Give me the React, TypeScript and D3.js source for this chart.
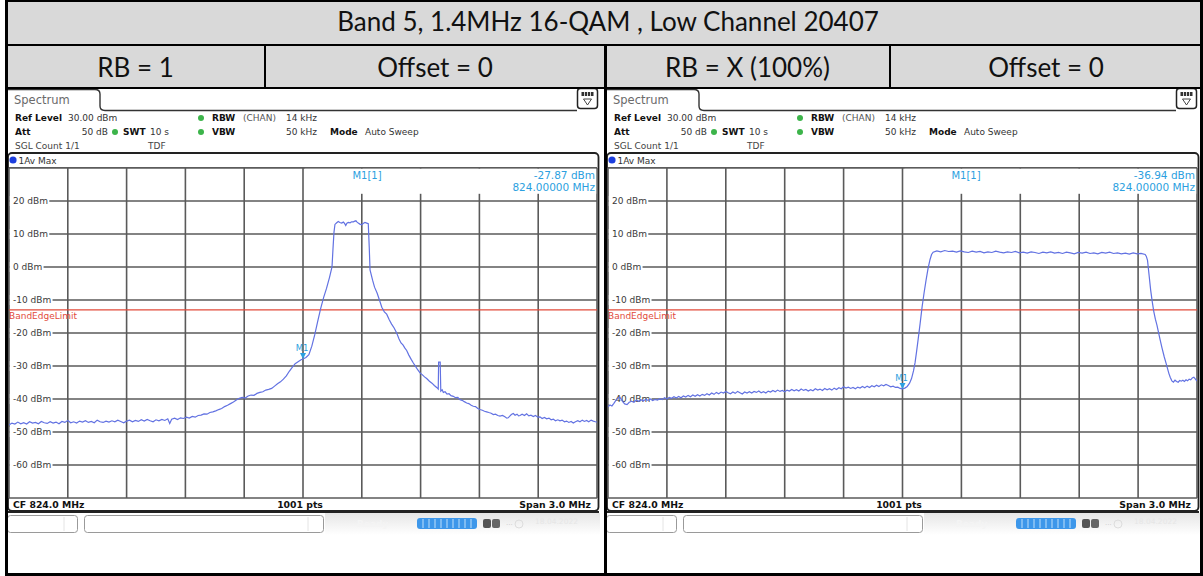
import React from "react";
import * as d3 from "d3";

// ---------------- data ----------------
const TITLE = "Band 5, 1.4MHz 16-QAM , Low Channel 20407";
const SUB_HEADERS = ["RB = 1", "Offset = 0", "RB = X (100%)", "Offset = 0"];
const Y_TICKS = [20, 10, 0, -10, -20, -30, -40, -50, -60];
const REF_LEVEL = 30;
const BOTTOM_LEVEL = -70;
const CF_LABEL = "CF 824.0 MHz";
const PTS_LABEL = "1001 pts";
const SPAN_LABEL = "Span 3.0 MHz";
const SPAN_MHZ = 3.0;
const X_DIVISIONS = 10;
const LIMIT_DBM = -13;
const LIMIT_NAME = "BandEdgeLimit";
const MARKER_OFFSET_MHZ = 0;
const MARKER_DBM = [-27.87, -36.94];
const MARKER_FREQ_LABEL = "824.00000 MHz";

// [frequency offset from CF in MHz, level in dBm]
const TRACE_RB1: [number, number][] = [
  [-1.5, -47.9], [-1.485, -47.3], [-1.47, -47.6], [-1.455, -47.0], [-1.44, -47.5], [-1.425, -47.2],
  [-1.41, -47.6], [-1.395, -46.9], [-1.38, -47.3], [-1.365, -47.1], [-1.35, -47.5], [-1.335, -46.8],
  [-1.32, -47.2], [-1.305, -47.4], [-1.29, -46.9], [-1.275, -47.3], [-1.26, -47.0], [-1.245, -47.5],
  [-1.23, -46.8], [-1.215, -47.1], [-1.2, -46.5], [-1.185, -47.2], [-1.17, -46.9], [-1.155, -47.3],
  [-1.14, -46.7], [-1.125, -47.0], [-1.11, -46.6], [-1.095, -47.1], [-1.08, -46.8], [-1.065, -47.2],
  [-1.05, -46.4], [-1.035, -46.9], [-1.02, -47.1], [-1.005, -46.7], [-0.99, -47.0], [-0.975, -46.6],
  [-0.96, -46.9], [-0.945, -46.4], [-0.93, -46.8], [-0.915, -47.2], [-0.9, -46.7], [-0.885, -46.4],
  [-0.87, -46.9], [-0.855, -46.5], [-0.84, -46.8], [-0.825, -46.3], [-0.81, -46.7], [-0.795, -46.2],
  [-0.78, -46.6], [-0.765, -46.9], [-0.75, -46.3], [-0.735, -46.6], [-0.72, -46.2], [-0.705, -46.5],
  [-0.69, -46.0], [-0.68, -47.4], [-0.67, -46.1], [-0.655, -45.8], [-0.64, -46.2], [-0.625, -45.7],
  [-0.61, -45.9], [-0.595, -45.5], [-0.58, -45.8], [-0.565, -45.3], [-0.55, -45.5], [-0.535, -45.0],
  [-0.52, -44.9], [-0.505, -44.5], [-0.49, -44.6], [-0.475, -44.1], [-0.46, -43.9], [-0.445, -43.6],
  [-0.43, -43.2], [-0.415, -42.9], [-0.4, -42.3], [-0.385, -41.9], [-0.37, -41.4], [-0.355, -40.9],
  [-0.34, -40.3], [-0.325, -39.8], [-0.31, -39.5], [-0.295, -39.7], [-0.28, -39.1], [-0.265, -38.8],
  [-0.25, -38.9], [-0.235, -38.3], [-0.22, -38.0], [-0.205, -37.8], [-0.19, -37.3], [-0.175, -37.1],
  [-0.16, -36.8], [-0.145, -36.1], [-0.13, -35.4], [-0.115, -34.8], [-0.1, -34.0], [-0.085, -33.0],
  [-0.07, -31.6], [-0.055, -30.4], [-0.04, -29.3], [-0.025, -28.7], [-0.01, -28.1], [0.0, -27.9],
  [0.015, -27.4], [0.03, -26.6], [0.045, -24.0], [0.06, -20.5], [0.075, -16.5], [0.09, -12.6],
  [0.105, -9.3], [0.12, -6.5], [0.135, -3.2], [0.148, 0.0], [0.153, 5.5], [0.158, 10.5],
  [0.163, 12.9], [0.172, 13.4], [0.18, 13.8], [0.188, 13.5], [0.197, 13.3], [0.206, 13.6],
  [0.212, 13.2], [0.218, 12.6], [0.224, 13.3], [0.231, 13.5], [0.24, 13.4], [0.248, 13.7],
  [0.257, 13.7], [0.264, 13.9], [0.27, 14.0], [0.276, 13.6], [0.282, 13.3], [0.29, 13.0],
  [0.299, 12.8], [0.307, 13.2], [0.316, 13.5], [0.325, 13.3], [0.333, 13.1], [0.338, 6.0],
  [0.342, -0.9], [0.355, -4.0], [0.365, -6.1], [0.378, -7.9], [0.39, -10.0], [0.402, -12.2],
  [0.415, -13.6], [0.427, -14.3], [0.44, -16.0], [0.452, -17.3], [0.465, -18.5], [0.478, -20.0],
  [0.49, -21.8], [0.5, -23.0], [0.51, -23.6], [0.52, -24.6], [0.529, -25.3], [0.54, -26.7],
  [0.552, -28.0], [0.563, -29.1], [0.575, -30.2], [0.586, -31.2], [0.597, -32.1], [0.608, -32.6],
  [0.62, -33.3], [0.631, -33.8], [0.645, -34.6], [0.658, -35.2], [0.67, -35.9], [0.682, -36.5],
  [0.69, -37.0], [0.692, -28.8], [0.7, -28.8], [0.703, -37.6], [0.71, -37.2], [0.716, -38.0],
  [0.725, -37.8], [0.735, -38.5], [0.745, -38.4], [0.755, -39.0], [0.767, -39.2], [0.778, -39.6],
  [0.79, -39.5], [0.801, -40.2], [0.812, -40.4], [0.823, -40.8], [0.835, -41.2], [0.846, -41.4],
  [0.858, -41.9], [0.869, -42.2], [0.88, -42.3], [0.892, -42.9], [0.903, -43.2], [0.915, -43.4],
  [0.926, -43.7], [0.937, -43.9], [0.948, -44.1], [0.96, -44.3], [0.971, -44.7], [0.982, -44.6],
  [0.994, -45.0], [1.005, -45.2], [1.018, -45.0], [1.03, -45.4], [1.04, -45.8], [1.047, -45.7],
  [1.055, -45.2], [1.063, -44.7], [1.073, -44.4], [1.082, -44.9], [1.092, -44.6], [1.1, -45.1],
  [1.107, -45.0], [1.118, -44.6], [1.13, -45.0], [1.141, -44.5], [1.152, -45.1], [1.163, -44.9],
  [1.175, -45.3], [1.186, -45.0], [1.198, -45.5], [1.209, -45.4], [1.22, -45.9], [1.232, -45.6],
  [1.243, -46.0], [1.255, -45.8], [1.266, -46.3], [1.277, -46.1], [1.288, -46.6], [1.3, -46.3],
  [1.311, -46.6], [1.322, -46.4], [1.334, -46.9], [1.345, -46.7], [1.356, -47.1], [1.368, -46.8],
  [1.379, -47.3], [1.39, -46.9], [1.402, -46.6], [1.413, -46.9], [1.425, -46.4], [1.436, -46.8],
  [1.447, -46.5], [1.458, -46.9], [1.47, -46.4], [1.481, -46.7], [1.492, -46.9], [1.5, -47.0],
];

const TRACE_RB100: [number, number][] = [
  [-1.5, -42.4], [-1.49, -41.8], [-1.48, -42.1], [-1.47, -41.3], [-1.46, -40.4], [-1.45, -39.8],
  [-1.44, -39.4], [-1.432, -40.2], [-1.424, -40.9], [-1.415, -41.5], [-1.403, -41.7], [-1.392, -41.0],
  [-1.38, -40.7], [-1.368, -41.0], [-1.356, -40.4], [-1.344, -40.7], [-1.332, -40.2], [-1.32, -40.6],
  [-1.308, -40.1], [-1.296, -40.4], [-1.284, -40.0], [-1.272, -40.5], [-1.26, -40.1], [-1.248, -40.3],
  [-1.236, -39.9], [-1.224, -40.2], [-1.212, -39.6], [-1.2, -40.0], [-1.188, -39.5], [-1.176, -39.8],
  [-1.164, -39.3], [-1.152, -39.7], [-1.14, -39.2], [-1.128, -39.6], [-1.116, -39.1], [-1.104, -39.4],
  [-1.092, -38.9], [-1.08, -39.3], [-1.068, -38.8], [-1.056, -39.2], [-1.044, -38.7], [-1.032, -39.1],
  [-1.02, -38.6], [-1.008, -38.9], [-0.996, -38.4], [-0.984, -38.8], [-0.972, -38.2], [-0.96, -38.6],
  [-0.948, -38.0], [-0.936, -38.4], [-0.924, -37.9], [-0.912, -38.2], [-0.9, -37.7], [-0.888, -38.1],
  [-0.876, -38.4], [-0.864, -37.9], [-0.852, -38.3], [-0.84, -37.7], [-0.828, -38.1], [-0.816, -38.5],
  [-0.804, -37.9], [-0.792, -38.2], [-0.78, -37.8], [-0.768, -38.2], [-0.756, -37.7], [-0.744, -38.0],
  [-0.732, -37.6], [-0.72, -38.1], [-0.708, -37.8], [-0.696, -38.2], [-0.684, -37.6], [-0.672, -37.9],
  [-0.66, -37.4], [-0.648, -37.8], [-0.636, -37.3], [-0.624, -37.7], [-0.612, -37.4], [-0.6, -37.8],
  [-0.588, -37.3], [-0.576, -37.6], [-0.564, -37.1], [-0.552, -37.5], [-0.54, -37.2], [-0.528, -37.6],
  [-0.516, -37.0], [-0.504, -37.4], [-0.492, -37.1], [-0.48, -37.6], [-0.468, -37.2], [-0.456, -37.5],
  [-0.444, -36.9], [-0.432, -37.3], [-0.42, -37.0], [-0.408, -37.4], [-0.396, -36.8], [-0.384, -37.2],
  [-0.372, -36.9], [-0.36, -37.3], [-0.348, -36.7], [-0.336, -37.1], [-0.324, -36.6], [-0.312, -36.9],
  [-0.3, -36.3], [-0.288, -36.7], [-0.276, -36.4], [-0.264, -36.8], [-0.252, -36.5], [-0.24, -36.9],
  [-0.228, -36.4], [-0.216, -36.7], [-0.204, -36.2], [-0.192, -36.6], [-0.18, -36.1], [-0.168, -36.5],
  [-0.156, -36.0], [-0.144, -36.3], [-0.132, -35.8], [-0.12, -36.2], [-0.108, -35.7], [-0.096, -36.0],
  [-0.084, -35.6], [-0.072, -35.9], [-0.06, -36.3], [-0.048, -36.1], [-0.036, -36.5], [-0.024, -36.4],
  [-0.012, -36.8], [0.0, -36.9], [0.012, -36.7], [0.024, -36.2], [0.036, -35.2], [0.046, -33.8],
  [0.056, -31.5], [0.064, -29.0], [0.072, -25.5], [0.08, -21.8], [0.09, -17.0], [0.1, -12.0],
  [0.11, -7.8], [0.12, -4.0], [0.13, -0.5], [0.14, 2.2], [0.148, 3.8], [0.156, 4.5],
  [0.175, 4.9], [0.195, 4.6], [0.215, 5.0], [0.235, 4.7], [0.255, 4.8], [0.275, 4.5],
  [0.295, 4.9], [0.315, 4.6], [0.335, 4.4], [0.355, 4.8], [0.375, 4.5], [0.395, 4.7],
  [0.415, 4.3], [0.435, 4.6], [0.455, 4.4], [0.475, 4.8], [0.495, 4.5], [0.515, 4.3],
  [0.535, 4.6], [0.555, 4.4], [0.575, 4.7], [0.595, 4.3], [0.615, 4.5], [0.635, 4.2],
  [0.655, 4.6], [0.675, 4.4], [0.695, 4.1], [0.715, 4.5], [0.735, 4.3], [0.755, 4.6],
  [0.775, 4.2], [0.795, 4.4], [0.815, 4.1], [0.835, 4.5], [0.855, 4.3], [0.875, 4.0],
  [0.895, 4.4], [0.915, 4.2], [0.935, 4.5], [0.955, 4.1], [0.975, 4.3], [0.995, 4.0],
  [1.015, 4.4], [1.035, 4.2], [1.055, 4.5], [1.075, 4.1], [1.095, 4.3], [1.115, 4.0],
  [1.135, 4.2], [1.155, 3.9], [1.175, 4.3], [1.195, 4.0], [1.215, 4.1], [1.236, 3.8],
  [1.242, 3.2], [1.248, 2.0], [1.256, -2.5], [1.264, -7.0], [1.272, -10.5], [1.28, -13.5],
  [1.288, -15.8], [1.296, -17.6], [1.304, -19.8], [1.312, -22.0], [1.322, -24.6], [1.333, -27.2],
  [1.343, -29.3], [1.35, -30.8], [1.357, -32.3], [1.364, -33.5], [1.372, -34.5], [1.38, -34.9],
  [1.388, -34.3], [1.396, -34.7], [1.404, -34.9], [1.412, -34.4], [1.42, -34.6], [1.428, -34.3],
  [1.436, -34.7], [1.444, -34.2], [1.452, -34.5], [1.46, -34.0], [1.468, -34.2], [1.476, -33.6],
  [1.484, -33.4], [1.492, -34.0], [1.5, -34.6],
];

// ---------------- drawing ----------------
const MONO = "DejaVu Sans";
const TRACE_COLOR = "#6272e2";
const MARKER_COLOR = "#2c9fe0";
const GRID_COLOR = "#5a5a5a";
const LIMIT_COLOR = "#e24b3b";

// approximate DejaVu Sans 9px glyph widths for label backgrounds
function labelWidth(s: string) {
  let w = 0;
  for (const c of s) {
    if (c >= "0" && c <= "9") w += 5.73;
    else if (c === "-") w += 3.25;
    else if (c === " ") w += 2.86;
    else if (c === "d") w += 5.72;
    else if (c === "B") w += 6.18;
    else if (c === "m") w += 8.77;
    else w += 5.5;
  }
  return w;
}

type PanelProps = { x0: number; x1: number; trace: [number, number][]; markerDbm: number; id: string };

function Panel({ x0, x1, trace, markerDbm, id }: PanelProps) {
  const PLOT_TOP = 168;
  const PLOT_BOTTOM = 498;
  const x = d3.scaleLinear().domain([-SPAN_MHZ / 2, SPAN_MHZ / 2]).range([x0, x1]);
  const y = d3.scaleLinear().domain([BOTTOM_LEVEL, REF_LEVEL]).range([PLOT_BOTTOM, PLOT_TOP]);
  const line = d3
    .line<[number, number]>()
    .x((d) => x(d[0]))
    .y((d) => y(d[1]));
  const vLines = d3.range(X_DIVISIONS + 1).map((i) => -SPAN_MHZ / 2 + (i * SPAN_MHZ) / X_DIVISIONS);
  const hLines = d3.range(BOTTOM_LEVEL, REF_LEVEL + 1, 10);
  const mx = x(MARKER_OFFSET_MHZ);
  const my = y(markerDbm);
  const t = (dx: number) => x0 + dx;
  const txt = { fontFamily: MONO, fontSize: 9 } as const;
  const bold = { fontFamily: MONO, fontSize: 9, fontWeight: 700 } as const;
  const infoX = mx + 2;

  return (
    <g>
      {/* top tab */}
      <path
        d={`M ${t(-1)} 89.5 H ${t(86)} Q ${t(91)} 89.5 ${t(91)} 94 V 106 Q ${t(91)} 110.5 ${t(96)} 110.5 H ${t(568)}`}
        fill="none"
        stroke="#333"
        strokeWidth={1.4}
      />
      <text x={t(5)} y={104} fontFamily={MONO} fontSize={11.5} fill="#6a6a6a">Spectrum</text>
      {/* icon */}
      <rect x={t(568.5)} y={88.5} width={20} height={20} rx={3} fill="#fff" stroke="#222" strokeWidth={1.5} />
      <rect x={t(572.5)} y={92} width={12} height={4} fill="#333" />
      {[0, 1, 2].map((i) => (
        <line key={i} x1={t(575.5 + i * 3)} x2={t(575.5 + i * 3)} y1={92} y2={96} stroke="#fff" strokeWidth={0.8} />
      ))}
      <path d={`M ${t(574.5)} 99 L ${t(582.5)} 99 L ${t(578.5)} 105 Z`} fill="none" stroke="#333" strokeWidth={0.9} />

      {/* info lines */}
      <text x={t(6)} y={121} {...bold} fill="#111">Ref Level</text>
      <text x={t(59)} y={121} {...txt} fill="#333">30.00 dBm</text>
      <circle cx={t(192)} cy={118} r={3} fill="#3cb44a" />
      <text x={t(203)} y={121} {...bold} fill="#111">RBW</text>
      <text x={t(234)} y={121} {...txt} fill="#555">(CHAN)</text>
      <text x={t(308)} y={121} {...txt} fill="#333" textAnchor="end">14 kHz</text>

      <text x={t(6)} y={135} {...bold} fill="#111">Att</text>
      <text x={t(99)} y={135} {...txt} fill="#333" textAnchor="end">50 dB</text>
      <circle cx={t(106)} cy={132} r={3} fill="#3cb44a" />
      <text x={t(114)} y={135} {...bold} fill="#111">SWT</text>
      <text x={t(141)} y={135} {...txt} fill="#333">10 s</text>
      <circle cx={t(192)} cy={132} r={3} fill="#3cb44a" />
      <text x={t(203)} y={135} {...bold} fill="#111">VBW</text>
      <text x={t(308)} y={135} {...txt} fill="#333" textAnchor="end">50 kHz</text>
      <text x={t(321)} y={135} {...bold} fill="#111">Mode</text>
      <text x={t(356)} y={135} {...txt} fill="#333">Auto Sweep</text>

      <text x={t(6)} y={149} {...txt} fill="#444">SGL Count 1/1</text>
      <text x={t(139)} y={149} {...txt} fill="#444">TDF</text>

      {/* diagram frame */}
      <rect x={x0 - 1} y={153} width={x1 - x0 + 2.5} height={358} rx={4} fill="#fff" stroke="#222" strokeWidth={1.8} />
      <line x1={x0} x2={x1} y1={167.5} y2={167.5} stroke="#666" strokeWidth={1} />
      <circle cx={t(4)} cy={160} r={3.6} fill="#1d3fde" />
      <text x={t(9.5)} y={163.5} {...txt} fill="#333">1Av Max</text>

      {/* grid */}
      {vLines.map((v, i) => (
        <line key={"v" + i} x1={x(v)} x2={x(v)} y1={PLOT_TOP} y2={PLOT_BOTTOM} stroke={GRID_COLOR} strokeWidth={1.6} />
      ))}
      {hLines.map((h, i) => (
        <line key={"h" + i} x1={x0} x2={x1} y1={y(h)} y2={y(h)} stroke={GRID_COLOR} strokeWidth={1.6} />
      ))}
      {/* marker info overlay */}
      <rect x={infoX} y={PLOT_TOP + 0.8} width={x1 - infoX - 0.8} height={25} fill="#fff" />
      <text x={t(358)} y={179} fontFamily={MONO} fontSize={10} fill={MARKER_COLOR} textAnchor="middle">M1[1]</text>
      <text x={x1 - 2} y={179} fontFamily={MONO} fontSize={10.5} fill={MARKER_COLOR} textAnchor="end">
        {markerDbm.toFixed(2)} dBm
      </text>
      <text x={x1 - 2} y={191} fontFamily={MONO} fontSize={10.5} fill={MARKER_COLOR} textAnchor="end">
        {MARKER_FREQ_LABEL}
      </text>

      {/* limit line */}
      <line x1={x0} x2={x1} y1={y(LIMIT_DBM)} y2={y(LIMIT_DBM)} stroke={LIMIT_COLOR} strokeWidth={1.1} />
      <text x={x0} y={y(LIMIT_DBM) + 9.5} {...txt} fill={LIMIT_COLOR}>{LIMIT_NAME}</text>

      {/* y tick labels */}
      {Y_TICKS.map((v) => {
        const s = `${v} dBm`;
        return (
          <g key={"t" + v}>
            <rect x={x0 + 0.8} y={y(v) - 5} width={labelWidth(s) + 4.5} height={10} fill="#fff" />
            <text x={t(4)} y={y(v) + 3.3} {...txt} fill="#3a3a3a">
              {s}
            </text>
          </g>
        );
      })}

      {/* trace */}
      <clipPath id={id}>
        <rect x={x0} y={PLOT_TOP} width={x1 - x0} height={PLOT_BOTTOM - PLOT_TOP} />
      </clipPath>
      <path d={line(trace) || ""} fill="none" stroke={TRACE_COLOR} strokeWidth={1.2} clipPath={`url(#${id})`} />

      {/* marker */}
      <path d={`M ${mx - 3} ${my - 6} L ${mx + 3} ${my - 6} L ${mx} ${my} Z`} fill={MARKER_COLOR} />
      <text x={mx - 1} y={my - 8} fontFamily={MONO} fontSize={8.5} fill={MARKER_COLOR} textAnchor="middle">M1</text>

      {/* bottom band */}
      <text x={t(4)} y={508} fontFamily={MONO} fontSize={9.3} fontWeight={700} fill="#111">{CF_LABEL}</text>
      <text x={t(291)} y={508} fontFamily={MONO} fontSize={9.3} fontWeight={700} fill="#111" textAnchor="middle">{PTS_LABEL}</text>
      <text x={x1 - 6} y={508} fontFamily={MONO} fontSize={9.3} fontWeight={700} fill="#111" textAnchor="end">{SPAN_LABEL}</text>
      <line x1={x0 - 1} x2={x1 + 2} y1={512} y2={512} stroke="#222" strokeWidth={2.2} />

      {/* status bar */}
      <defs>
        <linearGradient id={`sg${id}`} x1="0" y1="0" x2="0" y2="1">
          <stop offset="0" stopColor="#e6e6e6" />
          <stop offset="1" stopColor="#ffffff" />
        </linearGradient>
      </defs>
      <rect x={t(316)} y={513} width={x1 - t(316) + 3} height={22} fill={`url(#sg${id})`} />
      <rect x={t(-1.5)} y={515.5} width={70} height={17} rx={3} fill="#fff" stroke="#9a9a9a" strokeWidth={1} />
      <line x1={t(55)} x2={t(55)} y1={517} y2={531} stroke="#e4e4e4" />
      <rect x={t(75.5)} y={515.5} width={239} height={17} rx={3} fill="#fff" stroke="#9a9a9a" strokeWidth={1} />
      <line x1={t(299)} x2={t(299)} y1={517} y2={531} stroke="#e4e4e4" />
      <text x={t(348)} y={527} fontFamily={MONO} fontSize={9} fontWeight={700} fill="#f4f4f4">Ready</text>
      <rect x={t(408)} y={518} width={60} height={11} rx={3} fill="#3d97ea" />
      {d3.range(1, 10).map((i) => (
        <line key={"p" + i} x1={t(408 + i * 6)} x2={t(408 + i * 6)} y1={519} y2={528} stroke="#bfe0fb" strokeWidth={1} />
      ))}
      <rect x={t(474)} y={519} width={8} height={9} rx={2} fill="#555" />
      <rect x={t(483)} y={519} width={8} height={9} rx={2} fill="#666" />
      <text x={t(497)} y={527} fontFamily={MONO} fontSize={7} fill="#ccc">···</text>
      <circle cx={t(510)} cy={524} r={4} fill="none" stroke="#ddd" />
      <text x={t(526)} y={524} fontFamily={MONO} fontSize={7.5} fill="#e6e6e6">18.04.2022</text>
    </g>
  );
}

export default function App() {
  const cellEdges = [6, 265, 605, 890, 1202];
  return (
    <div style={{ position: "absolute", left: 0, top: 0 }}>
      <svg width={1203} height={576} style={{ display: "block" }}>
        <rect width={1203} height={576} fill="#fff" />
        {/* header rows */}
        <rect x={6} y={0} width={1196} height={88} fill="#d9d9d9" />
        <text x={608} y={31} fontFamily="Lato" fontSize={26} fill="#111" textAnchor="middle">
          {TITLE}
        </text>
        {SUB_HEADERS.map((s, i) => (
          <text
            key={i}
            x={(cellEdges[i] + cellEdges[i + 1]) / 2}
            y={77}
            fontFamily="Lato"
            fontSize={26}
            fill="#111"
            textAnchor="middle"
          >
            {s}
          </text>
        ))}

        <Panel x0={9} x1={597} trace={TRACE_RB1} markerDbm={MARKER_DBM[0]} id="clipL" />
        <Panel x0={608} x1={1197} trace={TRACE_RB100} markerDbm={MARKER_DBM[1]} id="clipR" />

        {/* table borders */}
        <line x1={5} x2={1203} y1={1} y2={1} stroke="#000" strokeWidth={2} />
        <line x1={5} x2={1203} y1={45} y2={45} stroke="#000" strokeWidth={2} />
        <line x1={5} x2={1203} y1={88} y2={88} stroke="#000" strokeWidth={2} />
        <line x1={265} x2={265} y1={45} y2={88} stroke="#000" strokeWidth={2} />
        <line x1={890} x2={890} y1={45} y2={88} stroke="#000" strokeWidth={2} />
        <line x1={605.5} x2={605.5} y1={45} y2={576} stroke="#000" strokeWidth={3} />
        <line x1={6.5} x2={6.5} y1={0} y2={576} stroke="#000" strokeWidth={3} />
        <line x1={1201.5} x2={1201.5} y1={0} y2={576} stroke="#000" strokeWidth={3} />
        <line x1={5} x2={1203} y1={574.5} y2={574.5} stroke="#000" strokeWidth={3} />
      </svg>
    </div>
  );
}
